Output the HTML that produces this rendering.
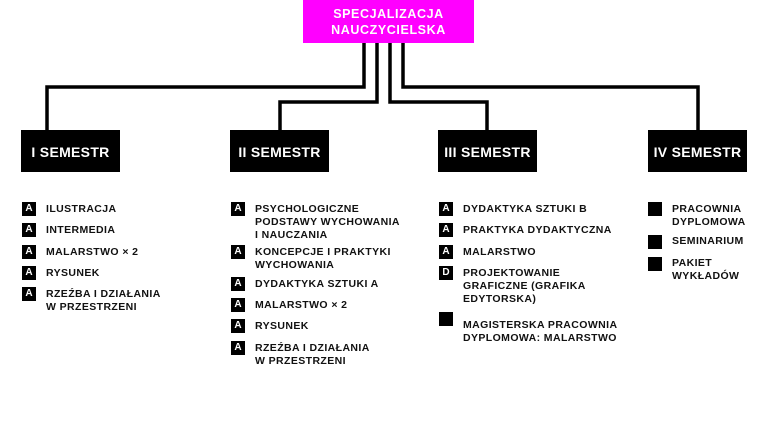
<!DOCTYPE html>
<html><head><meta charset="utf-8"><style>
body{margin:0;width:768px;height:432px;background:#fff;position:relative;overflow:hidden;font-family:"Liberation Sans",sans-serif;font-weight:bold}
.a{position:absolute}
.top{left:303px;top:0;width:171px;height:43px;background:#f0f;color:#fff;font-size:12.5px;letter-spacing:.6px;text-align:center;line-height:16px;padding-top:6px;box-sizing:border-box}
.box{position:absolute;top:130px;width:99px;height:42px;background:#000;color:#fff;font-size:14px;line-height:44px;text-align:center;letter-spacing:.3px}
.ic{position:absolute;width:14px;height:14px;background:#000;color:#fff;font-size:10px;line-height:14px;text-align:center}
.t{position:absolute;font-size:10.5px;line-height:13px;color:#111;letter-spacing:.4px;white-space:nowrap}
</style></head><body>
<svg class="a" style="left:0;top:0" width="768" height="432">
<g fill="none" stroke="#000" stroke-width="3.5">
<polyline points="364,43 364,87 47,87 47,130"/>
<polyline points="377,43 377,102 280,102 280,130"/>
<polyline points="390,43 390,102 487,102 487,130"/>
<polyline points="403,43 403,87 698,87 698,130"/>
</g></svg>
<div class="a top">SPECJALIZACJA<br>NAUCZYCIELSKA</div>
<div class="box" style="left:21px">I SEMESTR</div>
<div class="box" style="left:230px">II SEMESTR</div>
<div class="box" style="left:438px">III SEMESTR</div>
<div class="box" style="left:648px">IV SEMESTR</div>

<div class="ic" style="left:22px;top:202px">A</div><div class="t" style="left:46px;top:203px">ILUSTRACJA</div>
<div class="ic" style="left:22px;top:223px">A</div><div class="t" style="left:46px;top:224px">INTERMEDIA</div>
<div class="ic" style="left:22px;top:245px">A</div><div class="t" style="left:46px;top:246px">MALARSTWO × 2</div>
<div class="ic" style="left:22px;top:266px">A</div><div class="t" style="left:46px;top:267px">RYSUNEK</div>
<div class="ic" style="left:22px;top:287px">A</div><div class="t" style="left:46px;top:288px">RZEŹBA I DZIAŁANIA<br>W PRZESTRZENI</div>

<div class="ic" style="left:231px;top:202px">A</div><div class="t" style="left:255px;top:203px">PSYCHOLOGICZNE<br>PODSTAWY WYCHOWANIA<br>I NAUCZANIA</div>
<div class="ic" style="left:231px;top:245px">A</div><div class="t" style="left:255px;top:246px">KONCEPCJE I PRAKTYKI<br>WYCHOWANIA</div>
<div class="ic" style="left:231px;top:277px">A</div><div class="t" style="left:255px;top:278px">DYDAKTYKA SZTUKI A</div>
<div class="ic" style="left:231px;top:298px">A</div><div class="t" style="left:255px;top:299px">MALARSTWO × 2</div>
<div class="ic" style="left:231px;top:319px">A</div><div class="t" style="left:255px;top:320px">RYSUNEK</div>
<div class="ic" style="left:231px;top:341px">A</div><div class="t" style="left:255px;top:342px">RZEŹBA I DZIAŁANIA<br>W PRZESTRZENI</div>

<div class="ic" style="left:439px;top:202px">A</div><div class="t" style="left:463px;top:203px">DYDAKTYKA SZTUKI B</div>
<div class="ic" style="left:439px;top:223px">A</div><div class="t" style="left:463px;top:224px">PRAKTYKA DYDAKTYCZNA</div>
<div class="ic" style="left:439px;top:245px">A</div><div class="t" style="left:463px;top:246px">MALARSTWO</div>
<div class="ic" style="left:439px;top:266px">D</div><div class="t" style="left:463px;top:267px">PROJEKTOWANIE<br>GRAFICZNE (GRAFIKA<br>EDYTORSKA)</div>
<div class="ic" style="left:439px;top:312px"></div><div class="t" style="left:463px;top:319px">MAGISTERSKA PRACOWNIA<br>DYPLOMOWA: MALARSTWO</div>

<div class="ic" style="left:648px;top:202px"></div><div class="t" style="left:672px;top:203px">PRACOWNIA<br>DYPLOMOWA</div>
<div class="ic" style="left:648px;top:235px"></div><div class="t" style="left:672px;top:235px">SEMINARIUM</div>
<div class="ic" style="left:648px;top:257px"></div><div class="t" style="left:672px;top:257px">PAKIET<br>WYKŁADÓW</div>
</body></html>
